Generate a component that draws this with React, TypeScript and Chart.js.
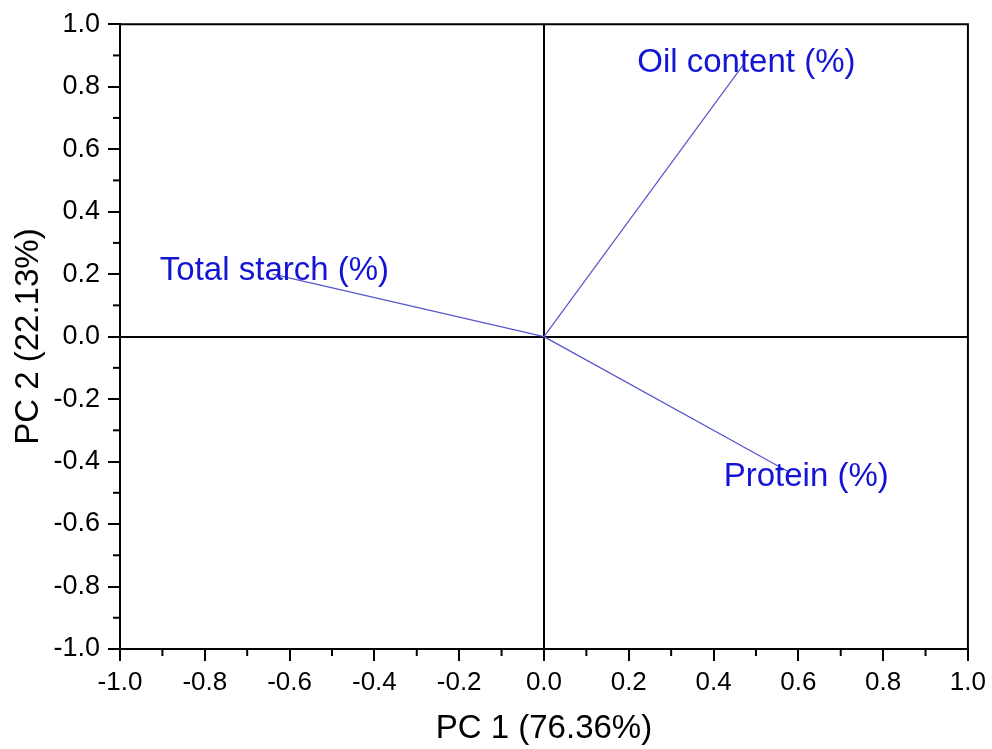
import React, { useEffect, useRef } from "react";
import { Chart, registerables } from "chart.js";

Chart.register(...registerables);

const variables = ["Oil content (%)", "Total starch (%)", "Protein (%)"];
const pc1Loadings = [0.47, -0.64, 0.58];
const pc2Loadings = [0.87, 0.2, -0.435];
const labelX = [0.22, -0.906, 0.424];
const labelY = [0.847, 0.18, -0.477];
const xTitle = "PC 1 (76.36%)";
const yTitle = "PC 2 (22.13%)";
const axisMin = -1.0;
const axisMax = 1.0;
const majorStep = 0.2;
const minorStep = 0.1;

const FONT = "'Liberation Sans', Arial, sans-serif";
const LINE_COLOR = "#5656cc";
const LABEL_COLOR = "#1414d4";

const decorPlugin = {
  id: "decor",
  afterDatasetsDraw(chart: any) {
    const { ctx, chartArea, scales } = chart;
    const xs = scales.x;
    const ys = scales.y;
    ctx.save();
    ctx.strokeStyle = "#000";
    ctx.lineWidth = 2;
    ctx.beginPath();
    ctx.moveTo(chartArea.left, chartArea.top);
    ctx.lineTo(chartArea.right, chartArea.top);
    ctx.lineTo(chartArea.right, chartArea.bottom);
    ctx.stroke();
    const n = Math.round((axisMax - axisMin) / minorStep);
    for (let i = 0; i <= n; i++) {
      if (i % 2 === 0) continue;
      const v = axisMin + i * minorStep;
      const px = xs.getPixelForValue(v);
      ctx.beginPath();
      ctx.moveTo(px, chartArea.bottom);
      ctx.lineTo(px, chartArea.bottom + 7);
      ctx.stroke();
      const py = ys.getPixelForValue(v);
      ctx.beginPath();
      ctx.moveTo(chartArea.left, py);
      ctx.lineTo(chartArea.left - 7, py);
      ctx.stroke();
    }
    ctx.fillStyle = LABEL_COLOR;
    ctx.font = `33px ${FONT}`;
    ctx.textAlign = "left";
    ctx.textBaseline = "alphabetic";
    variables.forEach((name, i) => {
      ctx.fillText(name, xs.getPixelForValue(labelX[i]), ys.getPixelForValue(labelY[i]));
    });
    ctx.restore();
  },
};

export default function App() {
  const ref = useRef<HTMLCanvasElement | null>(null);
  useEffect(() => {
    if (!ref.current) return;
    const datasets = variables.map((name, i) => ({
      label: name,
      data: [
        { x: 0, y: 0 },
        { x: pc1Loadings[i], y: pc2Loadings[i] },
      ],
      showLine: true,
      borderColor: LINE_COLOR,
      borderWidth: 1.2,
      pointRadius: 0,
      fill: false,
    }));
    const tickFmt = (v: any) => {
      const n = Number(v);
      return Math.abs(n) < 1e-9 ? "0.0" : n.toFixed(1);
    };
    const gridCfg = {
      display: true,
      drawOnChartArea: true,
      drawTicks: true,
      tickLength: 12,
      tickWidth: 2,
      tickColor: "#000",
      lineWidth: 2,
      color: (c: any) =>
        c.tick && Math.abs(c.tick.value) < 1e-9 ? "#000" : "rgba(0,0,0,0)",
    };
    const chart = new Chart(ref.current, {
      type: "scatter",
      data: { datasets },
      plugins: [decorPlugin],
      options: {
        responsive: false,
        animation: false,
        layout: { padding: { left: 0, top: 22, right: 22, bottom: 0 } },
        plugins: {
          legend: { display: false },
          tooltip: { enabled: false },
        },
        scales: {
          x: {
            type: "linear",
            min: axisMin,
            max: axisMax,
            afterFit: (s: any) => {
              s.height = 100;
            },
            border: { display: true, color: "#000", width: 2 },
            grid: gridCfg as any,
            ticks: {
              stepSize: majorStep,
              autoSkip: false,
              maxRotation: 0,
              padding: 6,
              color: "#000",
              font: { family: FONT, size: 26 },
              callback: tickFmt,
            },
            title: {
              display: true,
              text: xTitle,
              color: "#000",
              font: { family: FONT, size: 33 },
              padding: { top: 0, bottom: 0 },
            },
          },
          y: {
            type: "linear",
            min: axisMin,
            max: axisMax,
            afterFit: (s: any) => {
              s.width = 120;
            },
            border: { display: true, color: "#000", width: 2 },
            grid: gridCfg as any,
            ticks: {
              stepSize: majorStep,
              autoSkip: false,
              padding: 8,
              color: "#000",
              font: { family: FONT, size: 27 },
              callback: tickFmt,
            },
            title: {
              display: true,
              text: yTitle,
              color: "#000",
              font: { family: FONT, size: 33 },
              padding: { top: 9, bottom: 0 },
            },
          },
        },
      },
    });
    return () => chart.destroy();
  }, []);
  return (
    <div style={{ position: "absolute", left: 0, top: 0, width: 992, height: 749, background: "#fff" }}>
      <canvas ref={ref} width={992} height={749} />
    </div>
  );
}
